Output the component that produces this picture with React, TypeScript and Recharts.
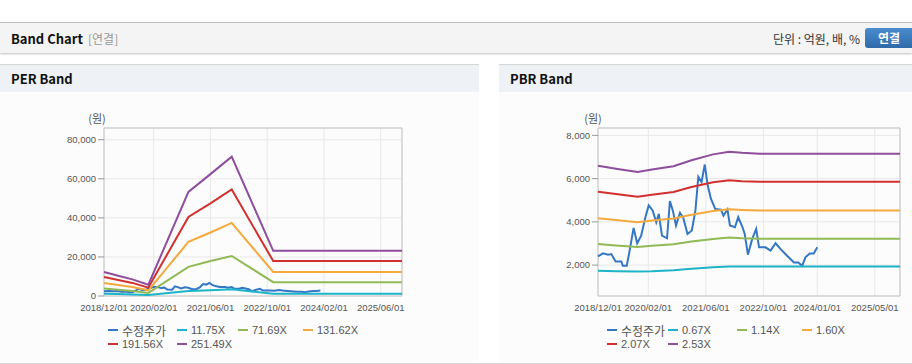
import React from 'react';
import { CartesianGrid, Line, LineChart, ReferenceArea, XAxis, YAxis } from 'recharts';

// x values are months counted from 2018/12
const PRICE_M = [0, 1.4, 2.8, 3.7, 4.9, 6.5, 6.9, 8, 8.8, 9.9, 10.9, 12, 13.2, 14.1, 15.2, 16.2, 16.9, 17.8, 19.2, 20, 20.8, 21.7, 22.8, 23.7, 24.9, 26.1, 27.1, 27.9, 28.8, 29.7, 30.5, 31.4, 32.6, 34.2, 34.9, 36, 36.7, 38.1, 39, 40.2, 40.8, 41.7, 42.9, 44, 44.8, 46.6, 48, 49.4, 50.8, 52.6, 54.5, 55.7, 56.8, 57.7, 58.9, 60, 61];
const PRICE_V = [2400, 2540, 2480, 2510, 2170, 2170, 1970, 1970, 2670, 3720, 3000, 3360, 4220, 4760, 4530, 3980, 4370, 3360, 3240, 4960, 4530, 3830, 4420, 4190, 3440, 3600, 4530, 6080, 5840, 6650, 5690, 5070, 4600, 4560, 4290, 4570, 3830, 3750, 4220, 3750, 3440, 2480, 3210, 3670, 2820, 2820, 2670, 3010, 2740, 2430, 2120, 2120, 1970, 2360, 2540, 2540, 2820];

const PER_BAND_M = [0, 4, 8, 12.5, 23.8, 30, 36, 47.7, 84];
const PER_1175 = [1200, 1000, 800, 500, 2500, 2900, 3400, 1200, 1200];
const PER_7169 = [3800, 3200, 2600, 1600, 14900, 17900, 20500, 7100, 7100];
const PER_13162 = [6700, 5600, 4600, 2900, 27700, 32500, 37400, 12300, 12300];
const PER_19156 = [9750, 8200, 6700, 4300, 40500, 47400, 54500, 17900, 17900];
const PER_25149 = [12300, 10400, 8500, 5800, 53300, 62400, 71300, 23100, 23100];

const PBR_BAND_M = [0, 5, 11, 15, 21, 26, 32, 36.5, 40, 45, 84];
const PBR_067 = [1740, 1720, 1700, 1710, 1760, 1830, 1900, 1940, 1940, 1930, 1930];
const PBR_114 = [2970, 2910, 2840, 2890, 2960, 3090, 3210, 3270, 3240, 3220, 3220];
const PBR_160 = [4170, 4090, 3980, 4060, 4150, 4330, 4500, 4580, 4550, 4520, 4520];
const PBR_207 = [5390, 5290, 5160, 5250, 5380, 5610, 5830, 5920, 5880, 5850, 5850];
const PBR_253 = [6590, 6460, 6300, 6420, 6570, 6850, 7120, 7240, 7190, 7150, 7150];

const PER_NAMES = ['수정주가', '11.75X', '71.69X', '131.62X', '191.56X', '251.49X'];
const PBR_NAMES = ['수정주가', '0.67X', '1.14X', '1.60X', '2.07X', '2.53X'];

const PER_TICKS = [0, 14, 30, 46, 62, 78];
const PER_TICK_LABELS = ['2018/12/01', '2020/02/01', '2021/06/01', '2022/10/01', '2024/02/01', '2025/06/01'];
const PBR_TICKS = [0, 14, 30, 46, 61, 77];
const PBR_TICK_LABELS = ['2018/12/01', '2020/02/01', '2021/06/01', '2022/10/01', '2024/01/01', '2025/05/01'];

const PER_Y_TICKS = [0, 20000, 40000, 60000, 80000];
const PBR_Y_TICKS = [2000, 4000, 6000, 8000];

const COLORS = ['#3477c6', '#1db3c8', '#8fba55', '#f4a93c', '#d2302f', '#8e4d9d'];

const KR = '"Noto Sans CJK KR", "Noto Sans", sans-serif';
const LAT = '"Liberation Sans", Arial, "Noto Sans CJK KR", sans-serif';

const toPoints = (xs: number[], ys: number[]) => xs.map((m, i) => ({ m, v: ys[i] }));

type BandProps = {
  series: { m: number; v: number }[][];
  names: string[];
  ticks: number[];
  tickLabels: string[];
  yTicks: number[];
  yDomain: [number, number];
  left: number;
  width: number;
  marginLeft: number;
  marginRight: number;
  legendCols: number[];
  legendLeft: number;
  unitX: number;
};

function BandChart(p: BandProps) {
  return (
    <>
      <div
        style={{
          position: 'absolute',
          left: p.unitX - 15,
          top: 110,
          width: 30,
          textAlign: 'center',
          fontFamily: KR,
          fontSize: 11,
          color: '#555',
        }}
      >
        (원)
      </div>
      <div style={{ position: 'absolute', left: p.left, top: 100 }}>
        <LineChart
          width={p.width}
          height={230}
          margin={{ top: 28, right: p.marginRight, bottom: 4, left: p.marginLeft }}
        >
          <CartesianGrid stroke="#e8e8e8" />
          <ReferenceArea
            x1={0}
            x2={84}
            y1={p.yDomain[0]}
            y2={p.yDomain[1]}
            fill="none"
            stroke="#c4c4c4"
            strokeOpacity={1}
          />
          <XAxis
            type="number"
            dataKey="m"
            domain={[0, 84]}
            ticks={p.ticks}
            interval={0}
            height={30}
            axisLine={false}
            tickLine={false}
            tick={{ fontSize: 9.5, fill: '#555', fontFamily: LAT }}
            tickFormatter={(v) => p.tickLabels[p.ticks.indexOf(v)] ?? ''}
          />
          <YAxis
            type="number"
            domain={p.yDomain}
            ticks={p.yTicks}
            interval={0}
            width={60}
            axisLine={false}
            tickLine={{ stroke: '#999' }}
            tickSize={6}
            tick={{ fontSize: 9.5, fill: '#555', fontFamily: LAT }}
            tickFormatter={(v) => Number(v).toLocaleString('en-US')}
          />
          {p.series.map((pts, i) => (
            <Line
              key={p.names[i]}
              data={pts}
              dataKey="v"
              name={p.names[i]}
              type="linear"
              stroke={COLORS[i]}
              strokeWidth={2}
              dot={false}
              activeDot={false}
              isAnimationActive={false}
            />
          ))}
        </LineChart>
      </div>
      {p.names.map((n, i) => (
        <div
          key={n}
          style={{
            position: 'absolute',
            left: p.legendLeft + p.legendCols[i % 4],
            top: 323 + Math.floor(i / 4) * 14,
            height: 14,
            display: 'flex',
            alignItems: 'center',
            fontFamily: i === 0 ? KR : LAT,
            fontSize: i === 0 ? 12 : 11,
            color: '#555',
            whiteSpace: 'nowrap',
          }}
        >
          <span style={{ display: 'inline-block', width: 10, height: 2, background: COLORS[i], marginRight: 4 }} />
          {n}
        </div>
      ))}
    </>
  );
}

export default function App() {
  const perSeries = [
    toPoints(PRICE_M, PRICE_V),
    toPoints(PER_BAND_M, PER_1175),
    toPoints(PER_BAND_M, PER_7169),
    toPoints(PER_BAND_M, PER_13162),
    toPoints(PER_BAND_M, PER_19156),
    toPoints(PER_BAND_M, PER_25149),
  ];
  const pbrSeries = [
    toPoints(PRICE_M, PRICE_V),
    toPoints(PBR_BAND_M, PBR_067),
    toPoints(PBR_BAND_M, PBR_114),
    toPoints(PBR_BAND_M, PBR_160),
    toPoints(PBR_BAND_M, PBR_207),
    toPoints(PBR_BAND_M, PBR_253),
  ];

  const panelHead: React.CSSProperties = {
    position: 'absolute',
    top: 64,
    height: 28,
    borderTop: '1px solid #d6d6d6',
    background: '#eef2f7',
    fontFamily: KR,
    fontWeight: 700,
    fontSize: 13,
    color: '#111',
    lineHeight: '28px',
    paddingLeft: 11,
    boxSizing: 'border-box',
  };
  const panelBody: React.CSSProperties = {
    position: 'absolute',
    top: 93,
    height: 270,
    background: '#fcfcfc',
  };

  return (
    <div style={{ position: 'relative', width: 912, height: 364, background: '#fff', overflow: 'hidden' }}>
      <style>{'body{margin:0}'}</style>
      <div
        style={{
          position: 'absolute',
          left: 0,
          top: 22,
          width: 912,
          height: 30,
          borderTop: '1px solid #bdbdbd',
          background: '#f4f4f4',
          boxShadow: '0 1px 2px rgba(0,0,0,0.25)',
        }}
      >
        <span
          style={{
            position: 'absolute',
            left: 11,
            top: 6,
            fontFamily: KR,
            fontWeight: 700,
            fontSize: 13,
            color: '#111',
          }}
        >
          Band Chart
        </span>
        <span style={{ position: 'absolute', left: 88, top: 7, fontFamily: KR, fontSize: 12, color: '#999' }}>
          [연결]
        </span>
        <span
          style={{ position: 'absolute', right: 52, top: 7, fontFamily: KR, fontSize: 12, color: '#333' }}
        >
          단위 : 억원, 배, %
        </span>
        <div
          style={{
            position: 'absolute',
            left: 865,
            top: 5,
            width: 52,
            height: 20,
            borderRadius: 3,
            background: 'linear-gradient(#4a8ccf, #2f6aa9)',
            color: '#fff',
            fontFamily: KR,
            fontWeight: 700,
            fontSize: 12,
            lineHeight: '20px',
            paddingLeft: 13,
            boxSizing: 'border-box',
          }}
        >
          연결
        </div>
      </div>

      <div style={{ ...panelHead, left: 0, width: 479 }}>PER Band</div>
      <div style={{ ...panelBody, left: 0, width: 479 }} />
      <div style={{ ...panelHead, left: 499, width: 413 }}>PBR Band</div>
      <div style={{ ...panelBody, left: 499, width: 413 }} />
      <div style={{ position: 'absolute', left: 0, top: 363, width: 912, height: 1, background: '#d6d6d6' }} />

      <BandChart
        series={perSeries}
        names={PER_NAMES}
        ticks={PER_TICKS}
        tickLabels={PER_TICK_LABELS}
        yTicks={PER_Y_TICKS}
        yDomain={[0, 86000]}
        left={0}
        width={420}
        marginLeft={44}
        marginRight={18}
        legendCols={[0, 69, 130, 195]}
        legendLeft={108}
        unitX={97}
      />
      <BandChart
        series={pbrSeries}
        names={PBR_NAMES}
        ticks={PBR_TICKS}
        tickLabels={PBR_TICK_LABELS}
        yTicks={PBR_Y_TICKS}
        yDomain={[570, 8340]}
        left={499}
        width={413}
        marginLeft={39}
        marginRight={12}
        legendCols={[0, 61, 130, 195]}
        legendLeft={607}
        unitX={593}
      />
    </div>
  );
}
